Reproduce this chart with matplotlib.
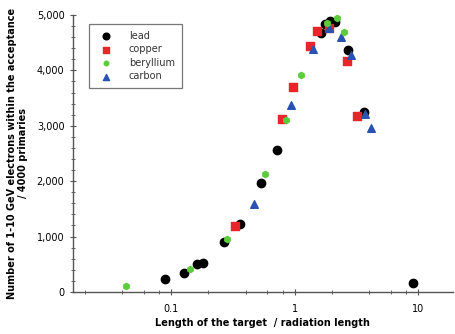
import numpy as np
import matplotlib
matplotlib.use("Agg")
import matplotlib.pyplot as plt
from matplotlib.ticker import FuncFormatter, LogLocator, MultipleLocator, FixedLocator

# data
lead_x = [0.090, 0.127, 0.162, 0.182, 0.269, 0.362, 0.536, 0.72, 1.63, 1.76, 1.94, 2.12, 2.70, 3.63, 8.98]
lead_y = [229, 348, 511, 518, 897, 1227, 1967, 2570, 4680, 4840, 4890, 4870, 4360, 3240, 168]

copper_x = [0.328, 0.782, 0.976, 1.32, 1.51, 1.88, 2.63, 3.21]
copper_y = [1191, 3123, 3695, 4435, 4705, 4760, 4175, 3183]

beryllium_x = [0.043, 0.142, 0.283, 0.571, 0.851, 1.13, 1.82, 2.19, 2.52]
beryllium_y = [108, 415, 957, 2136, 3105, 3917, 4850, 4940, 4700]

carbon_x = [0.469, 0.929, 1.40, 1.91, 2.35, 2.85, 3.72, 4.18]
carbon_y = [1594, 3370, 4390, 4760, 4605, 4280, 3220, 2955]

fig = plt.figure(figsize=(4.55, 3.34), dpi=100)
ax = fig.add_axes([0.160, 0.126, 0.835, 0.829])

ax.scatter(lead_x, lead_y, s=36, c="black", marker="o", label="lead", zorder=3)
ax.scatter(copper_x, copper_y, s=34, c="#e8262a", marker="s", label="copper", zorder=3)
ax.scatter(beryllium_x, beryllium_y, s=20, c="#5ccc3c", marker="h", label="beryllium", zorder=4)
ax.scatter(carbon_x, carbon_y, s=30, c="#2a52b0", marker="^", label="carbon", zorder=3)

ax.set_xscale("log")
ax.set_xlim(0.016, 19)
ax.set_ylim(0, 5000)

ax.xaxis.set_major_locator(FixedLocator([0.1, 1, 10]))
ax.xaxis.set_major_formatter(FuncFormatter(lambda v, p: "%g" % v))
ax.xaxis.set_minor_locator(LogLocator(base=10, subs=[2, 4, 6, 8]))
ax.xaxis.set_minor_formatter(FuncFormatter(lambda v, p: ""))
ax.yaxis.set_major_locator(MultipleLocator(1000))
ax.yaxis.set_minor_locator(MultipleLocator(200))
ax.yaxis.set_major_formatter(FuncFormatter(lambda v, p: "{:,.0f}".format(v)))

for s in ["top", "right"]:
    ax.spines[s].set_visible(False)
for s in ["left", "bottom"]:
    ax.spines[s].set_color("#555555")
    ax.spines[s].set_linewidth(1.0)

ax.tick_params(axis="both", which="major", labelsize=7, color="#555555", length=5, direction="inout")
ax.tick_params(axis="both", which="minor", color="#555555", length=3, direction="inout")
ax.tick_params(axis="x", which="major", pad=6)

ax.set_xlabel("Length of the target  / radiation length", fontsize=7, fontweight="bold", labelpad=3)
ax.set_ylabel("Number of 1-10 GeV electrons within the acceptance\n/ 4000 primaries",
              fontsize=7, fontweight="bold", labelpad=6)

leg = ax.legend(loc="upper left", bbox_to_anchor=(0.03, 0.985), fontsize=7,
                frameon=True, fancybox=False, edgecolor="#555555",
                handletextpad=1.4, borderpad=0.7, labelspacing=0.35, markerscale=0.8)
leg.get_frame().set_linewidth(0.9)
for t in leg.get_texts():
    t.set_color("#333333")

fig.savefig("out.png", dpi=100)
